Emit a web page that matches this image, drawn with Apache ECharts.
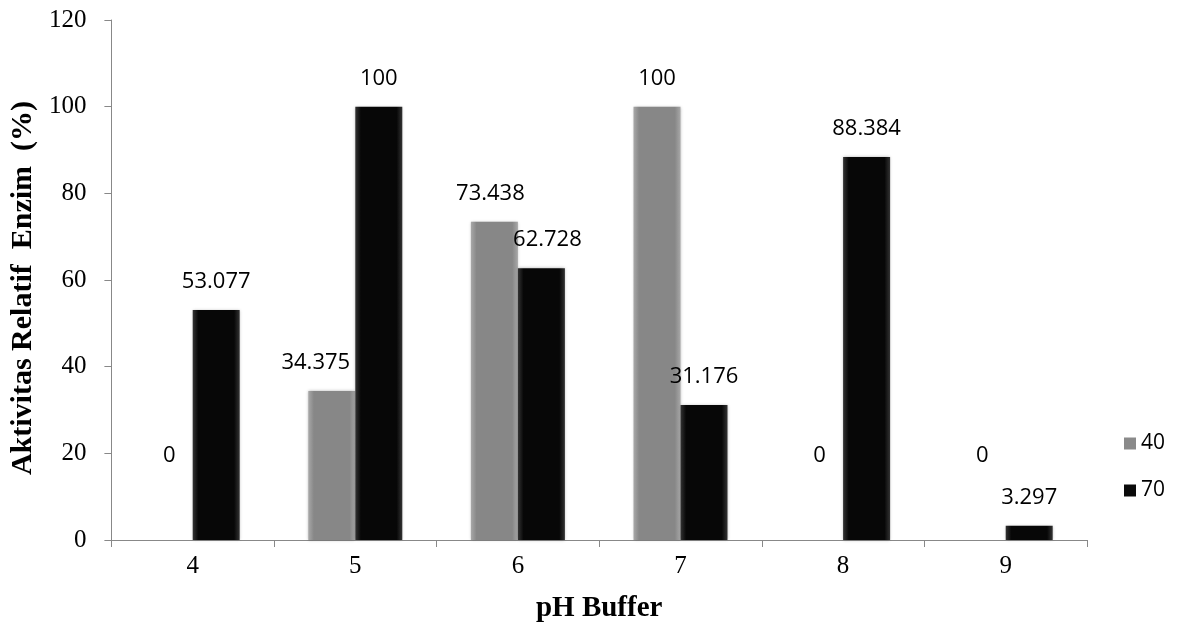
<!DOCTYPE html>
<html>
<head>
<meta charset="utf-8">
<script src="https://cdn.jsdelivr.net/npm/echarts@6/dist/echarts.min.js"></script>
<style>html,body{margin:0;padding:0;background:#fff}#c{width:1194px;height:633px}</style>
</head>
<body>
<div id="c"></div>
<script>
var categories = ['4', '5', '6', '7', '8', '9'];
var series40 = [0, 34.375, 73.438, 100, 0, 0];
var series70 = [53.077, 100, 62.728, 31.176, 88.384, 3.297];
var labels40 = ['0', '34.375', '73.438', '100', '0', '0'];
var labels70 = ['53.077', '100', '62.728', '31.176', '88.384', '3.297'];
var yTicks = [0, 20, 40, 60, 80, 100, 120];

var chart = echarts.init(document.getElementById('c'));

function grad(edge, mid) {
  return new echarts.graphic.LinearGradient(0, 0, 1, 0, [
    {offset: 0, color: edge}, {offset: 0.12, color: mid},
    {offset: 0.88, color: mid}, {offset: 1, color: edge}
  ]);
}

// label nudges (style only), keyed by series name and category index
var nudge = {'40': {1: -16, 2: -4}, '70': {2: 6}};

function mkData(name, vals, labs) {
  return vals.map(function (v, i) {
    var dx = (nudge[name] && nudge[name][i]) || 0;
    var d = {value: v, label: {formatter: labs[i], offset: [dx, 0]}};
    if (v === 0) d.label.offset = [dx, -56];
    return d;
  });
}

var labelStyle = {
  show: true, position: 'top', distance: 17,
  fontFamily: '"Open Sans", "Liberation Sans", sans-serif',
  fontSize: 22, color: '#000'
};

chart.setOption({
  animation: false,
  grid: {left: 107, right: 107, top: 20, bottom: 93},
  legend: {
    orient: 'vertical', right: 24, top: 428, itemGap: 26,
    itemWidth: 12, itemHeight: 12,
    textStyle: {fontFamily: '"Open Sans", "Liberation Sans", sans-serif', fontSize: 21, color: '#000'},
    data: [
      {name: '40', icon: 'rect', itemStyle: {color: '#8a8a8a'}},
      {name: '70', icon: 'rect', itemStyle: {color: '#0a0a0a'}}
    ]
  },
  xAxis: {
    type: 'category', data: categories,
    name: 'pH Buffer', nameLocation: 'middle', nameGap: 54,
    nameTextStyle: {fontFamily: '"Liberation Serif", serif', fontWeight: 'bold', fontSize: 29, color: '#000'},
    axisLine: {lineStyle: {color: '#888', width: 1}},
    axisTick: {show: true, alignWithLabel: false, length: 7, lineStyle: {color: '#888'}},
    axisLabel: {fontFamily: '"Liberation Serif", serif', fontSize: 25, color: '#000', margin: 14}
  },
  yAxis: {
    type: 'value', min: 0, max: 120, interval: 20,
    name: 'Aktivitas Relatif  Enzim  (%)', nameLocation: 'middle', nameGap: 65,
    nameTextStyle: {fontFamily: '"Liberation Serif", serif', fontWeight: 'bold', fontSize: 30, color: '#000', padding: [0, 16, 0, 0]},
    axisLine: {show: true, lineStyle: {color: '#888', width: 1}},
    axisTick: {show: true, length: 7, lineStyle: {color: '#888'}},
    splitLine: {show: false},
    axisLabel: {
      fontFamily: '"Liberation Serif", serif', fontSize: 25, color: '#000', margin: 25,
      formatter: function (v) { return yTicks.indexOf(v) >= 0 ? String(v) : ''; }
    }
  },
  series: [
    {
      name: '40', type: 'bar', barWidth: 47, barGap: '0%',
      data: mkData('40', series40, labels40),
      itemStyle: {color: grad('#a8a8a8', '#878787'), shadowColor: 'rgba(0,0,0,0.3)', shadowBlur: 3},
      label: labelStyle
    },
    {
      name: '70', type: 'bar', barWidth: 47, barGap: '0%',
      data: mkData('70', series70, labels70),
      itemStyle: {color: grad('#333333', '#070707'), shadowColor: 'rgba(0,0,0,0.3)', shadowBlur: 3},
      label: labelStyle
    }
  ]
});
</script>
</body>
</html>
